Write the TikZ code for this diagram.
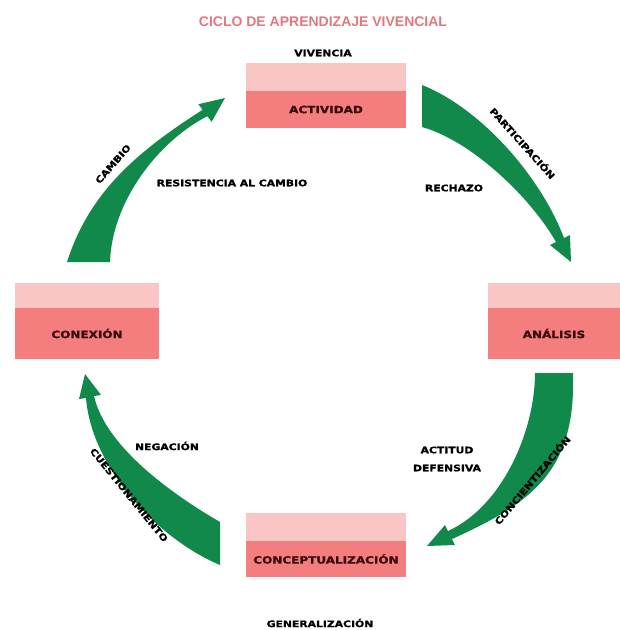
\documentclass[tikz,border=0pt]{standalone}
\usepackage{fontspec}
\usepackage{xcolor}
\usetikzlibrary{positioning}
\setmainfont{DejaVu Sans}
\newfontfamily\heavyfont{DejaVu Sans}[FakeStretch=1.2,FakeBold=1.2]
\newfontfamily\titlefont{Liberation Sans}
\definecolor{cyGreen}{HTML}{11894A}
\definecolor{cyRose}{HTML}{F47E7E}
\definecolor{cyBlush}{HTML}{F9C5C5}
\definecolor{cyTitle}{HTML}{E2777F}
\definecolor{cyInk}{HTML}{3A0B0B}
\tikzset{
  stage box/.style={fill=cyRose,inner sep=0pt,outer sep=0pt,minimum width=160pt,minimum height=37pt,
    font=\heavyfont\bfseries\fontsize{10}{12}\selectfont,text=cyInk},
  stage band/.style={fill=cyBlush,inner sep=0pt,outer sep=0pt,minimum width=160pt,minimum height=28pt},
  side box/.style={stage box,minimum width=144pt,minimum height=51pt},
  side band/.style={stage band,minimum width=144pt,minimum height=25pt},
  cycle label/.style={font=\heavyfont\bfseries\fontsize{9}{11}\selectfont,text=black,inner sep=1pt,align=center},
  cycle arrow/.style={fill=cyGreen,draw=none}
}
\begin{document}
\begin{tikzpicture}[x=1pt,y=-1pt]
\useasboundingbox (0,0) rectangle (620,630);
\node[font=\titlefont\bfseries\fontsize{14}{16}\selectfont,text=cyTitle] (title) at (323,22) {CICLO DE APRENDIZAJE VIVENCIAL};
% the four stages
\node[stage box] (act) at (326,109.5) {ACTIVIDAD};
\node[stage band,above=0pt of act] (actband) {};
\node[side box] (con) at (87,333.5) {CONEXIÓN};
\node[side band,above=0pt of con] (conband) {};
\node[side box,minimum width=132pt] (ana) at (554,333.5) {ANÁLISIS};
\node[side band,minimum width=132pt,above=0pt of ana] (anaband) {};
\node[stage box,minimum height=36pt] (cpt) at (326,559) {CONCEPTUALIZACIÓN};
\node[stage band,above=0pt of cpt] (cptband) {};
\node[cycle label] (viv) at (323,53) {VIVENCIA};
\node[cycle label] (gen) at (320,623) {GENERALIZACIÓN};
% green arrows
\fill[cycle arrow] (422,85) .. controls (480,108) and (540,175) .. (564,238) -- (570,235) -- (571,262)
  -- (550,245) -- (556,242) .. controls (531,198) and (472,141) .. (422,127) -- cycle;
\fill[cycle arrow] (535,373) -- (573,373) .. controls (576,470) and (534,502) .. (452,539) -- (455,545)
  -- (427,546) -- (445,525) -- (448,531) .. controls (503,506) and (535,430) .. (535,373) -- cycle;
\fill[cycle arrow] (220,522) .. controls (165,490) and (105,444) .. (94,396) -- (101,395) -- (85,374)
  -- (79,399) -- (86,398) .. controls (92,470) and (160,540) .. (220,565) -- cycle;
\fill[cycle arrow] (67,262) .. controls (90,190) and (140,150) .. (202.6,109.8) -- (198.4,104.2) -- (225,98)
  -- (211.6,121.8) -- (207.4,116.2) .. controls (160,140) and (112,200) .. (110,262) -- cycle;
% labels
\node[cycle label,rotate=-48] (part) at (523,143) {PARTICIPACIÓN};
\node[cycle label] (rech) at (454,188) {RECHAZO};
\node[cycle label,rotate=49] (camb) at (113,164) {CAMBIO};
\node[cycle label] (resi) at (232,183) {RESISTENCIA AL CAMBIO};
\node[cycle label] (acti) at (447,459) {ACTITUD\\[7pt]DEFENSIVA};
\node[cycle label,rotate=50] (conc) at (532,480) {CONCIENTIZACIÓN};
\node[cycle label] (nega) at (167,446) {NEGACIÓN};
\node[cycle label,rotate=-51] (cues) at (129,495) {CUESTIONAMIENTO};
\end{tikzpicture}
\end{document}
